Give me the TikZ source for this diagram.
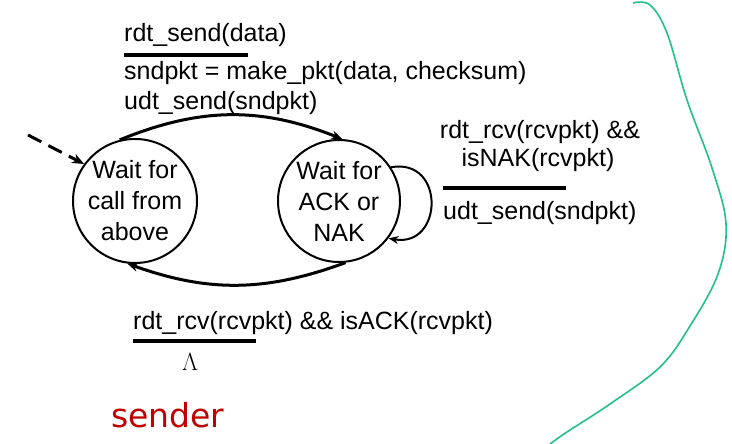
\documentclass[tikz,border=0pt]{standalone}
\usepackage{fontspec}
\setmainfont{Liberation Sans}
\newfontfamily\senderfont{DejaVu Sans}
\usetikzlibrary{arrows.meta,positioning}
\definecolor{ink}{HTML}{000000}
\definecolor{senderred}{HTML}{C00000}
\definecolor{curvegreen}{HTML}{22BF8E}
\newcommand{\fsmfont}{\fontsize{25}{31}\selectfont}
\tikzset{
  fsmstate/.style={draw=ink,circle,line width=2pt,minimum size=122pt,
                   inner sep=0pt,align=center,font=\fsmfont},
  fsmlabel/.style={inner sep=0pt,font=\fsmfont,anchor=west},
  guardbar/.style={draw=ink,line width=3.4pt},
  transarr/.style={-{Stealth[length=11pt,width=9pt]},line width=3pt,draw=ink},
  looparr/.style={-{Stealth[length=10pt,width=8pt]},line width=2pt,draw=ink},
  initarr/.style={-{Stealth[length=12pt,width=10pt]},line width=3pt,
                  dash pattern=on 15pt off 8pt,draw=ink}
}
\begin{document}
\begin{tikzpicture}[x=1pt,y=1pt]
    \path[use as bounding box] (0,0) rectangle (732,444);
    % states
    \node[fsmstate] (waitcall) at (135,243) {Wait for\\call from\\above};
    \node[fsmstate] (waitack) at (339,243) {Wait for\\ACK or\\NAK};
    % initial arrow
    \coordinate (initstart) at (28,309);
    \draw[initarr] (initstart) -- (waitcall.144);
    % transitions
    \draw[transarr] (waitcall.104) to[bend left=22] (waitack.87);
    \draw[transarr] (waitack.-84) to[bend left=20] (waitcall.-97);
    \draw[looparr] (waitack.33) to[out=10,in=-10,looseness=2] (waitack.-37);
    % send label
    \node[fsmlabel] (sendev) at (124,409) {rdt\_send(data)};
    \coordinate (sendbarL) at (124,389);
    \coordinate (sendbarR) at (248,389);
    \draw[guardbar] (sendbarL) -- (sendbarR);
    \node[fsmlabel] (sendact1) at (124,371) {sndpkt = make\_pkt(data, checksum)};
    \node[fsmlabel] (sendact2) at (124,341) {udt\_send(sndpkt)};
    % NAK label
    \node[fsmlabel,anchor=center] (nakev1) at (540,312) {rdt\_rcv(rcvpkt) \&\&};
    \node[fsmlabel,anchor=center] (nakev2) at (538,284) {isNAK(rcvpkt)};
    \coordinate (nakbarL) at (443,256);
    \coordinate (nakbarR) at (566,256);
    \draw[guardbar] (nakbarL) -- (nakbarR);
    \node[fsmlabel] (nakact) at (443,231) {udt\_send(sndpkt)};
    % ACK label
    \node[fsmlabel] (ackev) at (133,121) {rdt\_rcv(rcvpkt) \&\& isACK(rcvpkt)};
    \coordinate (ackbarL) at (133,103);
    \coordinate (ackbarR) at (256,103);
    \draw[guardbar] (ackbarL) -- (ackbarR);
    \node[inner sep=0pt,font=\fontsize{25}{30}\selectfont] (ackact) at (190,82) {$\Lambda$};
    % side name
    \node[inner sep=0pt,anchor=west,text=senderred,
          font=\senderfont\fontsize{33}{38}\selectfont] (sidename) at (111,29) {sender};
    % bracket curve
    \draw[curvegreen,line width=1.6pt] plot[smooth,tension=0.6] coordinates
      {(633,441) (650,439) (667,411) (687,344) (712,276) (726,220) (718,170)
       (690,118) (660,77) (610,40) (567,12) (550,0)};
  \end{tikzpicture}
\end{document}
